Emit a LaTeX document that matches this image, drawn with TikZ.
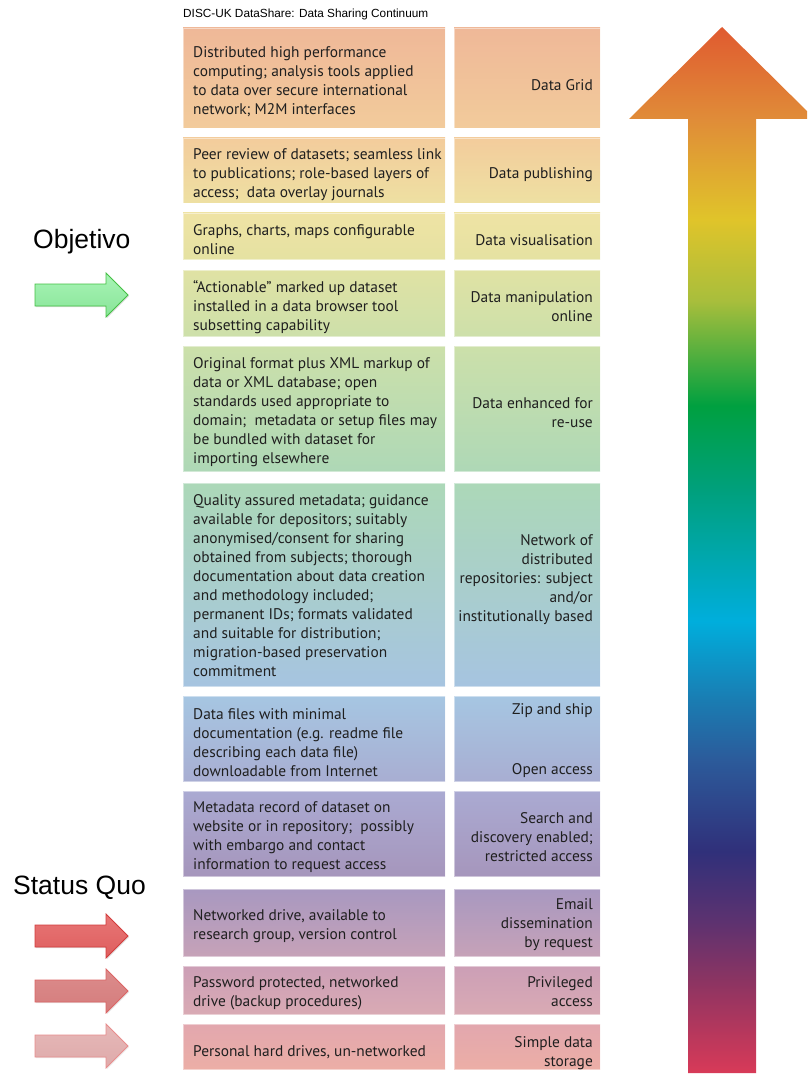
\documentclass[tikz,border=0pt]{standalone}
\usepackage{fontspec}
\setmainfont{PT Sans}
\newfontfamily\arialf{Liberation Sans}
\usetikzlibrary{shadows}
\definecolor{rb1}{HTML}{D83A58}
\definecolor{rb2}{HTML}{8C3462}
\definecolor{rb3}{HTML}{5C3270}
\definecolor{rb4}{HTML}{30307A}
\definecolor{rb5}{HTML}{2C5A9A}
\definecolor{rb6}{HTML}{1A7CB2}
\definecolor{rb7}{HTML}{00AEDC}
\definecolor{rb8}{HTML}{00A07C}
\definecolor{rb9}{HTML}{00A040}
\definecolor{rb10}{HTML}{A8BE3C}
\definecolor{rb11}{HTML}{E0C42A}
\definecolor{rb12}{HTML}{E08C38}
\definecolor{rb13}{HTML}{E05A30}
% box colours (top / bottom)
\definecolor{t1}{HTML}{EFB898}\definecolor{b1}{HTML}{F2CB9B}
\definecolor{t2}{HTML}{F3CC9C}\definecolor{b2}{HTML}{EEE0A2}
\definecolor{t3}{HTML}{EFE3A4}\definecolor{b3}{HTML}{E5E2A2}
\definecolor{t4}{HTML}{E0E2A4}\definecolor{b4}{HTML}{CDE0AA}
\definecolor{t5}{HTML}{CCE0AA}\definecolor{b5}{HTML}{AED8B6}
\definecolor{t6}{HTML}{ACD8B8}\definecolor{m6}{HTML}{A8DCDA}\definecolor{b6}{HTML}{A6C4E0}
\definecolor{t7}{HTML}{A6C6E2}\definecolor{b7}{HTML}{A8AED2}
\definecolor{t8}{HTML}{AAAAD2}\definecolor{b8}{HTML}{A696BC}
\definecolor{t9}{HTML}{A898C0}\definecolor{b9}{HTML}{C6A2B8}
\definecolor{t10}{HTML}{CC9FB6}\definecolor{b10}{HTML}{D9AAB4}
\definecolor{t11}{HTML}{E2A7AE}\definecolor{b11}{HTML}{ECAEA6}
% arrow colours
\definecolor{gdraw}{HTML}{44C044}\definecolor{gtop}{HTML}{A8F4B6}\definecolor{gbot}{HTML}{88E498}
\definecolor{r1draw}{HTML}{D23C3C}\definecolor{r1top}{HTML}{E87676}\definecolor{r1bot}{HTML}{DE5E5E}
\definecolor{r2draw}{HTML}{DC6464}\definecolor{r2top}{HTML}{DC8C8C}\definecolor{r2bot}{HTML}{D47C7C}
\definecolor{r3draw}{HTML}{E88C8C}\definecolor{r3top}{HTML}{E6B8B8}\definecolor{r3bot}{HTML}{DEAAAA}
\pgfdeclareverticalshading{rainbow}{100bp}{color(0bp)=(rb1); color(25bp)=(rb1); color(29.4bp)=(rb2); color(32.3bp)=(rb3); color(35.6bp)=(rb4); color(39.9bp)=(rb5); color(42.8bp)=(rb6); color(46.6bp)=(rb7); color(52.9bp)=(rb8); color(56.9bp)=(rb9); color(61.9bp)=(rb10); color(65.8bp)=(rb11); color(70.6bp)=(rb12); color(75bp)=(rb13); color(100bp)=(rb13)}
\tikzset{
  box/.style={rectangle, inner sep=0pt, outer sep=0pt, draw=white, draw opacity=0.45, line width=0.8pt},
  lbox/.style={box, minimum width=262pt},
  rbox/.style={box, minimum width=146pt},
  ltext/.style={anchor=west, align=left, inner sep=0pt, yshift=-4pt, text=black!88, font=\fontsize{15.4}{19}\selectfont},
  rtext/.style={anchor=east, align=right, inner sep=0pt, yshift=-4pt, text=black!88, font=\fontsize{15.4}{19}\selectfont},
  side/.style={inner sep=0pt, font=\arialf\fontsize{26.5}{30}\selectfont},
}
\begin{document}
\begin{tikzpicture}[x=1pt,y=-1pt]
\useasboundingbox (0,0) rectangle (807,1075);
\clip (0,0) rectangle (807,1075);
\fill[white] (0,0) rectangle (807,1075);

% title
\node[anchor=west, inner sep=0pt, font=\arialf\fontsize{11.8}{14}\selectfont] (title) at (183,14) {DISC-UK DataShare: Data Sharing Continuum};

% row 1
\node[lbox, minimum height=100pt, top color=t1, bottom color=b1] (l1) at (314,78) {};
\node[rbox, minimum height=100pt, top color=t1, bottom color=b1] (r1) at (527,78) {};
\node[ltext] (lt1) at ([xshift=10pt]l1.west) {Distributed high performance\\computing; analysis tools applied\\to data over secure international\\network; M2M interfaces};
\node[rtext, yshift=-3pt] (rt1) at ([xshift=-7pt]r1.east) {Data Grid};

% row 2
\node[lbox, minimum height=65pt, top color=t2, bottom color=b2] (l2) at (314,170.5) {};
\node[rbox, minimum height=65pt, top color=t2, bottom color=b2] (r2) at (527,170.5) {};
\node[ltext] (lt2) at ([xshift=10pt]l2.west) {Peer review of datasets; seamless link\\to publications; role-based layers of\\access;\ \ data overlay journals};
\node[rtext] (rt2) at ([xshift=-7pt]r2.east) {Data publishing};

% row 3
\node[lbox, minimum height=46pt, top color=t3, bottom color=b3] (l3) at (314,236) {};
\node[rbox, minimum height=46pt, top color=t3, bottom color=b3] (r3) at (527,236) {};
\node[ltext] (lt3) at ([xshift=10pt]l3.west) {Graphs, charts, maps configurable\\online};
\node[rtext] (rt3) at ([xshift=-7pt]r3.east) {Data visualisation};

% row 4
\node[lbox, minimum height=66pt, top color=t4, bottom color=b4] (l4) at (314,303) {};
\node[rbox, minimum height=66pt, top color=t4, bottom color=b4] (r4) at (527,303) {};
\node[ltext] (lt4) at ([xshift=10pt]l4.west) {“Actionable” marked up dataset\\installed in a data browser tool\\subsetting capability};
\node[rtext] (rt4) at ([xshift=-7pt]r4.east) {Data manipulation\\online};

% row 5
\node[lbox, minimum height=125pt, top color=t5, bottom color=b5] (l5) at (314,408.5) {};
\node[rbox, minimum height=125pt, top color=t5, bottom color=b5] (r5) at (527,408.5) {};
\node[ltext] (lt5) at ([xshift=10pt]l5.west) {Original format plus XML markup of\\data or XML database; open\\standards used appropriate to\\domain;\ \ metadata or setup files may\\be bundled with dataset for\\importing elsewhere};
\node[rtext] (rt5) at ([xshift=-7pt]r5.east) {Data enhanced for\\re-use};

% row 6
\node[lbox, minimum height=203pt, top color=t6, middle color=m6, bottom color=b6] (l6) at (314,584.5) {};
\node[rbox, minimum height=203pt, top color=t6, middle color=m6, bottom color=b6] (r6) at (527,584.5) {};
\node[ltext, yshift=3pt] (lt6) at ([xshift=10pt]l6.west) {Quality assured metadata; guidance\\available for depositors; suitably\\anonymised/consent for sharing\\obtained from subjects; thorough\\documentation about data creation\\and methodology included;\\permanent IDs; formats validated\\and suitable for distribution;\\migration-based preservation\\commitment};
\node[rtext, yshift=9pt] (rt6) at ([xshift=-7pt]r6.east) {Network of\\distributed\\repositories: subject\\and/or\\institutionally based};

% row 7
\node[lbox, minimum height=85pt, top color=t7, bottom color=b7] (l7) at (314,738.5) {};
\node[rbox, minimum height=85pt, top color=t7, bottom color=b7] (r7) at (527,738.5) {};
\node[ltext] (lt7) at ([xshift=10pt]l7.west) {Data files with minimal\\documentation (e.g. readme file\\describing each data file)\\downloadable from Internet};
\node[rtext, yshift=2pt] (rt7) at ([xshift=-7pt]r7.east) {Zip and ship\\[41pt]Open access};

% row 8
\node[lbox, minimum height=85pt, top color=t8, bottom color=b8] (l8) at (314,833.5) {};
\node[rbox, minimum height=85pt, top color=t8, bottom color=b8] (r8) at (527,833.5) {};
\node[ltext] (lt8) at ([xshift=10pt]l8.west) {Metadata record of dataset on\\website or in repository;\ \ possibly\\with embargo and contact\\information to request access};
\node[rtext] (rt8) at ([xshift=-7pt]r8.east) {Search and\\discovery enabled;\\restricted access};

% row 9
\node[lbox, minimum height=67pt, top color=t9, bottom color=b9] (l9) at (314,922.5) {};
\node[rbox, minimum height=67pt, top color=t9, bottom color=b9] (r9) at (527,922.5) {};
\node[ltext] (lt9) at ([xshift=10pt]l9.west) {Networked drive, available to\\research group, version control};
\node[rtext, yshift=2pt] (rt9) at ([xshift=-7pt]r9.east) {Email\\dissemination\\by request};

% row 10
\node[lbox, minimum height=48pt, top color=t10, bottom color=b10] (l10) at (314,990) {};
\node[rbox, minimum height=48pt, top color=t10, bottom color=b10] (r10) at (527,990) {};
\node[ltext, yshift=1pt] (lt10) at ([xshift=10pt]l10.west) {Password protected, networked\\drive (backup procedures)};
\node[rtext, yshift=2pt] (rt10) at ([xshift=-7pt]r10.east) {Privileged\\access};

% row 11
\node[lbox, minimum height=45pt, top color=t11, bottom color=b11] (l11) at (314,1046.5) {};
\node[rbox, minimum height=45pt, top color=t11, bottom color=b11] (r11) at (527,1046.5) {};
\node[ltext, yshift=-2pt] (lt11) at ([xshift=10pt]l11.west) {Personal hard drives, un-networked};
\node[rtext, yshift=-2.5pt] (rt11) at ([xshift=-7pt]r11.east) {Simple data\\storage};

% rainbow arrow
\shade[shading=rainbow] (722,27) -- (815,119) -- (756,119) -- (756,1073) -- (688,1073) -- (688,119) -- (629,119) -- cycle;

% side labels
\node[side, anchor=west] (obj) at (33,242) {Objetivo};
\node[side, anchor=west] (sq) at (13,888) {Status Quo};

% green arrow
\path[draw=gdraw, line width=0.8pt, top color=gtop, bottom color=gbot, drop shadow={opacity=0.25, shadow xshift=1pt, shadow yshift=-1pt}]
  (35,284) -- (106,284) -- (106,273) -- (128,295) -- (106,317) -- (106,306) -- (35,306) -- cycle;

% red arrows
\path[draw=r1draw, line width=0.8pt, top color=r1top, bottom color=r1bot, drop shadow={opacity=0.25, shadow xshift=1pt, shadow yshift=-1pt}]
  (35,925) -- (106,925) -- (106,914) -- (128,936) -- (106,958) -- (106,947) -- (35,947) -- cycle;
\path[draw=r2draw, line width=0.8pt, top color=r2top, bottom color=r2bot, drop shadow={opacity=0.2, shadow xshift=1pt, shadow yshift=-1pt}]
  (35,980) -- (106,980) -- (106,969) -- (128,991) -- (106,1013) -- (106,1002) -- (35,1002) -- cycle;
\path[draw=r3draw, line width=0.8pt, top color=r3top, bottom color=r3bot, drop shadow={opacity=0.15, shadow xshift=1pt, shadow yshift=-1pt}]
  (35,1035) -- (106,1035) -- (106,1024) -- (128,1046) -- (106,1068) -- (106,1057) -- (35,1057) -- cycle;
\end{tikzpicture}
\end{document}
